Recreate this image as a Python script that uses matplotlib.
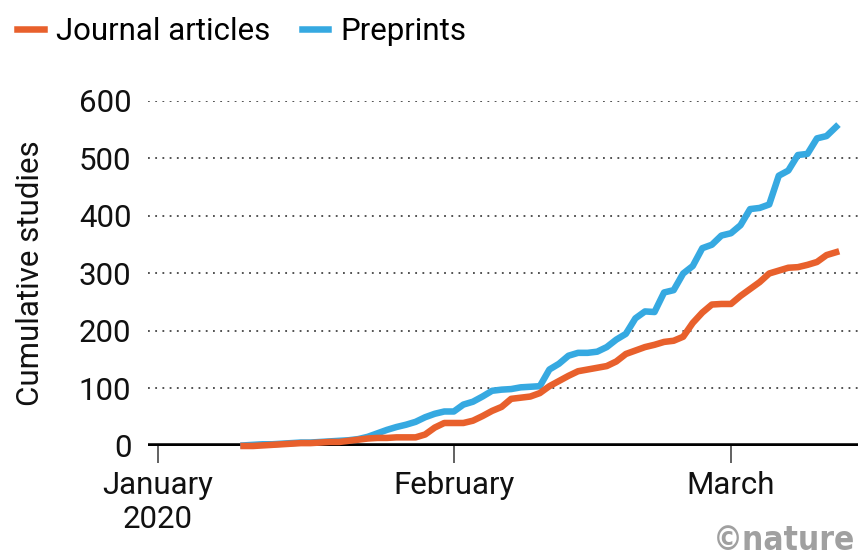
import matplotlib
matplotlib.use('Agg')
import matplotlib.pyplot as plt
import numpy as np

plt.rcParams['font.family'] = ['Roboto', 'DejaVu Sans']

# daily cumulative counts, 10 Jan to 12 Mar 2020
dates = np.arange(np.datetime64('2020-01-10'), np.datetime64('2020-03-13'))
journal = [0, 0, 1, 2, 3, 4, 5, 5, 6, 7, 7, 9, 11, 13, 14, 14, 15, 15, 15, 20,
           32, 40, 40, 40, 44, 52, 61, 68, 82, 84, 86, 92, 104, 113, 122, 130,
           133, 136, 139, 147, 160, 166, 172, 176, 181, 183, 190, 214, 232, 246,
           247, 247, 261, 273, 285, 300, 305, 310, 311, 315, 320, 332, 337]
preprints = [1, 2, 3, 3, 4, 5, 6, 6, 7, 8, 9, 10, 12, 16, 22, 28, 33, 37, 42, 50,
             56, 60, 60, 72, 77, 86, 96, 98, 99, 102, 103, 104, 133, 143, 157, 162,
             162, 164, 172, 185, 195, 222, 234, 233, 267, 271, 300, 313, 344, 350,
             366, 370, 384, 412, 414, 420, 470, 479, 506, 508, 535, 539, 555]
month_ticks = [np.datetime64('2020-01-01'), np.datetime64('2020-02-01'), np.datetime64('2020-03-01')]
month_labels = ['January\n2020', 'February', 'March']
yticks = [0, 100, 200, 300, 400, 500, 600]

orange = '#E8602C'
blue = '#36A9E1'
fs = 22.5

fig = plt.figure(figsize=(8.58, 5.57), dpi=100)
ax = fig.add_axes([0.1725, 0.1993, 0.8275, 0.6194])

for y in yticks[1:]:
    ax.axhline(y, color='#444444', linestyle=(0, (1, 3)), linewidth=1.3, zorder=1)
ax.axhline(0, color='black', linewidth=4, zorder=2)

ax.plot(dates, preprints, color=blue, linewidth=4.7, label='Preprints', zorder=3, clip_on=False)
ax.plot(dates, journal, color=orange, linewidth=4.7, label='Journal articles', zorder=4, clip_on=False)

ax.set_xlim(np.datetime64('2020-01-01') - np.timedelta64(1, 'D'), np.datetime64('2020-03-14') + np.timedelta64(7, 'h'))
ax.set_ylim(0, 600)
ax.set_xticks(month_ticks)
ax.set_xticklabels(month_labels, fontsize=fs, color='#111111', linespacing=1.2)
ax.set_yticks(yticks)
ax.set_yticklabels([str(v) for v in yticks], fontsize=fs, color='#111111')
ax.tick_params(axis='x', length=12, width=1.3, color='#555555', pad=6)
ax.tick_params(axis='y', length=0, pad=12)
for s in ax.spines.values():
    s.set_visible(False)
ax.set_ylabel('Cumulative studies', fontsize=fs, color='#111111', labelpad=24)

handles, labels = ax.get_legend_handles_labels()
fig.legend(handles[::-1], labels[::-1], loc='upper left', bbox_to_anchor=(0.0, 1.0),
           ncol=2, frameon=False, fontsize=fs, handlelength=0.85, handletextpad=0.4,
           columnspacing=1.0, borderaxespad=0.15)

fig.text(0.997, 0.0, '\u00a9nature', ha='right', va='bottom', fontsize=24,
         fontweight='bold', color='#a0a0a0', family='DejaVu Sans', fontstretch='condensed')

fig.savefig('out.png', dpi=100)
